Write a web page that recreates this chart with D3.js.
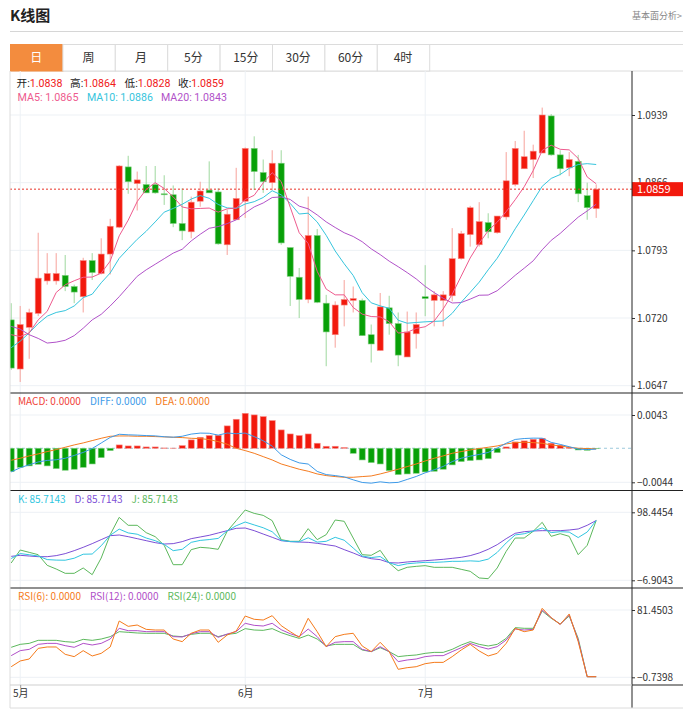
<!DOCTYPE html>
<html>
<head>
<meta charset="utf-8">
<script src="https://cdn.jsdelivr.net/npm/d3@7"></script>
<style>
  body { margin: 0; background: #fff; }
  svg { font-family: "Noto Sans CJK SC", "Noto Sans", sans-serif; }
  .leg { font-family: Roboto, "Noto Sans CJK SC", sans-serif; }
</style>
</head>
<body>
<svg id="chart" width="683" height="711"></svg>
<script>
// ---- data ----
var tabs = ["日", "周", "月", "5分", "15分", "30分", "60分", "4时"];
var monthLabels = ["5月", "6月", "7月"];
var monthIndex = [1, 26, 46];

var opens = [1.0718,1.0665,1.0710,1.0725,1.0760,1.0760,1.0766,1.0754,1.0743,1.0782,
  1.0768,1.0789,1.0818,1.0883,1.0865,1.0864,1.0864,1.0854,1.0853,1.0822,
  1.0813,1.0846,1.0858,1.0856,1.0799,1.0826,1.0846,1.0903,1.0877,1.0866,
  1.0887,1.0796,1.0764,1.0740,1.0809,1.0736,1.0702,1.0734,1.0739,1.0739,
  1.0702,1.0685,1.0731,1.0714,1.0678,1.0703,1.0743,1.0739,1.0739,1.0744,
  1.0784,1.0810,1.0799,1.0823,1.0812,1.0829,1.0864,1.0881,1.0891,1.0898,
  1.0938,1.0896,1.0882,1.0889,1.0852,1.0838];
var highs = [1.0736,1.0733,1.0730,1.0812,1.0790,1.0790,1.0788,1.0756,1.0785,1.0790,
  1.0806,1.0827,1.0885,1.0895,1.0878,1.0884,1.0884,1.0874,1.0863,1.0860,
  1.0851,1.0867,1.0889,1.0860,1.0837,1.0882,1.0904,1.0916,1.0891,1.0901,
  1.0901,1.0796,1.0774,1.0851,1.0816,1.0745,1.0738,1.0761,1.0754,1.0741,
  1.0713,1.0747,1.0744,1.0726,1.0727,1.0726,1.0777,1.0749,1.0749,1.0817,
  1.0814,1.0841,1.0845,1.0833,1.0830,1.0899,1.0911,1.0922,1.0907,1.0947,
  1.0940,1.0901,1.0899,1.0896,1.0866,1.0864];
var lows = [1.0664,1.0651,1.0676,1.0722,1.0756,1.0756,1.0749,1.0736,1.0726,1.0761,
  1.0767,1.0767,1.0817,1.0854,1.0836,1.0855,1.0854,1.0842,1.0818,1.0804,
  1.0806,1.0840,1.0855,1.0799,1.0788,1.0826,1.0828,1.0858,1.0855,1.0858,
  1.0799,1.0733,1.0720,1.0736,1.0736,1.0668,1.0688,1.0711,1.0726,1.0701,
  1.0672,1.0685,1.0702,1.0668,1.0678,1.0687,1.0722,1.0711,1.0711,1.0738,
  1.0783,1.0797,1.0797,1.0806,1.0811,1.0826,1.0862,1.0881,1.0871,1.0898,
  1.0895,1.0874,1.0873,1.0845,1.0826,1.0828];
var closes = [1.0666,1.0713,1.0726,1.0763,1.0768,1.0768,1.0754,1.0748,1.0782,1.0769,
  1.0789,1.0819,1.0884,1.0867,1.0869,1.0855,1.0855,1.0853,1.0822,1.0814,
  1.0845,1.0857,1.0855,1.0800,1.0832,1.0849,1.0903,1.0878,1.0867,1.0887,
  1.0801,1.0765,1.0740,1.0809,1.0737,1.0705,1.0734,1.0740,1.0741,1.0701,
  1.0692,1.0732,1.0714,1.0680,1.0705,1.0713,1.0741,1.0745,1.0745,1.0784,
  1.0811,1.0839,1.0824,1.0813,1.0830,1.0868,1.0903,1.0894,1.0900,1.0939,
  1.0896,1.0881,1.0891,1.0854,1.0839,1.0859];

// moving-average values at the left edge (history before the first candle)
var ma5Lead = [1.0702, 1.0700, 1.0704, 1.0718];
var ma10Lead = [1.0688, 1.0695, 1.0704, 1.0714, 1.0722, 1.0726, 1.0728, 1.0733, 1.0742];
var ma20Lead = [1.0711, 1.0708, 1.0702, 1.0698, 1.0693, 1.0694, 1.0696, 1.0701, 1.0709, 1.0718,
  1.0724, 1.0733, 1.0743, 1.0754, 1.0765, 1.0772, 1.0778, 1.0784, 1.0790];

var macdHist = [-0.00302,-0.00246,-0.00228,-0.00207,-0.00228,-0.00263,-0.00284,-0.00271,-0.00246,-0.00203,
  -0.00121,-0.00030,0.00043,0.00030,0.00030,0.00017,0.00017,0.00004,0.00002,0.00034,
  0.00108,0.00142,0.00164,0.00168,0.00289,0.00375,0.00452,0.00431,0.00409,0.00358,
  0.00237,0.00185,0.00164,0.00185,0.00065,0.00026,0.00026,0.00009,-0.00065,-0.00151,
  -0.00185,-0.00203,-0.00289,-0.00340,-0.00332,-0.00323,-0.00306,-0.00297,-0.00271,-0.00215,
  -0.00172,-0.00159,-0.00151,-0.00134,-0.00056,0.00017,0.00082,0.00095,0.00116,0.00129,
  0.00065,0.00039,0.00013,-0.00022,-0.00026,-0.00004];
var diffVals = [-0.00306,-0.00252,-0.00213,-0.00177,-0.00157,-0.00149,-0.00129,-0.00093,-0.00054,-0.00003,
  0.00068,0.00140,0.00181,0.00174,0.00170,0.00164,0.00160,0.00149,0.00143,0.00155,
  0.00183,0.00196,0.00194,0.00170,0.00197,0.00188,0.00196,0.00151,0.00097,0.00028,
  -0.00084,-0.00144,-0.00189,-0.00204,-0.00299,-0.00340,-0.00353,-0.00370,-0.00408,-0.00442,
  -0.00451,-0.00434,-0.00447,-0.00441,-0.00403,-0.00365,-0.00317,-0.00278,-0.00235,-0.00173,
  -0.00129,-0.00102,-0.00080,-0.00054,0.00002,0.00065,0.00114,0.00126,0.00131,0.00130,
  0.00076,0.00050,0.00020,-0.00011,-0.00017,-0.00011];
var deaVals = [-0.00155,-0.00129,-0.00099,-0.00073,-0.00043,-0.00017,0.00013,0.00043,0.00069,0.00099,
  0.00129,0.00155,0.00159,0.00159,0.00155,0.00155,0.00151,0.00147,0.00142,0.00138,
  0.00129,0.00125,0.00112,0.00086,0.00052,0.00000,-0.00030,-0.00065,-0.00108,-0.00151,
  -0.00203,-0.00237,-0.00271,-0.00297,-0.00332,-0.00353,-0.00366,-0.00375,-0.00375,-0.00366,
  -0.00358,-0.00332,-0.00302,-0.00271,-0.00237,-0.00203,-0.00164,-0.00129,-0.00099,-0.00065,
  -0.00043,-0.00022,-0.00004,0.00013,0.00030,0.00056,0.00073,0.00078,0.00073,0.00065,
  0.00043,0.00030,0.00013,0.00000,-0.00004,-0.00009];

var kVals = [26.8,34.5,32.7,30.7,25.2,24.4,24.2,27.3,33.5,33.8,
  46.6,62.8,72.4,66.5,64.5,58.6,54.5,48.7,39.0,41.1,
  51.9,54.9,56.2,58.0,69.6,77.6,83.4,78.9,74.5,68.3,
  55.0,53.1,52.8,59.0,52.3,53.5,59.7,55.2,43.1,30.7,
  28.3,29.9,20.3,15.9,18.7,19.9,20.9,20.8,21.5,22.5,
  22.5,23.2,22.5,25.9,36.3,51.0,63.4,65.2,69.3,74.3,
  67.0,68.4,67.8,59.3,67.9,85.7143];
var dVals = [30.2,31.8,30.7,29.7,29.7,31.3,34.4,39.0,44.2,49.9,
  56.1,62.2,63.3,60.7,57.6,54.5,51.4,49.3,49.9,53.0,
  57.6,60.2,62.8,66.4,70.0,73.6,74.1,70.0,64.8,59.7,
  54.5,53.0,52.4,51.9,50.4,48.3,46.2,40.6,35.4,29.7,
  26.6,25.1,20.4,19.9,21.5,22.5,23.5,24.5,25.6,27.1,
  28.7,31.3,35.4,41.1,48.3,57.6,65.9,68.4,69.5,70.0,
  70.0,70.0,71.0,72.6,78.3,85.7143];
var jVals = [19.9,40.0,36.4,32.8,16.3,10.6,3.9,3.9,12.2,1.8,
  27.6,63.8,90.6,78.3,78.3,66.9,60.7,47.3,17.3,17.3,
  40.6,44.2,43.1,41.1,69.0,85.5,102.0,96.8,93.7,85.5,
  56.1,53.5,53.5,73.1,56.1,63.8,86.5,84.5,58.6,32.8,
  31.8,39.5,19.9,8.0,13.2,14.7,15.8,13.2,13.2,13.2,
  10.1,7.0,-3.3,-4.4,12.2,38.0,58.6,58.6,69.0,82.9,
  61.2,65.3,61.2,32.8,47.3,85.7143];

var rsi6 = [12.2,19.2,21.6,34.6,36.3,36.3,27.3,24.5,31.8,25.3,
  28.5,36.3,68.0,61.5,63.1,57.8,57.0,57.0,46.0,42.8,
  53.0,57.0,57.0,42.0,50.9,55.8,74.1,70.1,69.2,74.5,
  62.3,55.0,48.1,71.3,55.0,36.7,48.9,51.7,53.0,37.5,
  30.6,42.0,30.6,9.0,11.0,12.2,15.9,17.5,17.5,24.5,
  32.6,39.5,31.4,25.3,28.5,40.7,59.1,55.0,57.0,83.5,
  72.1,63.9,76.6,42.8,0,0];
var rsi12 = [25.7,31.8,33.4,39.5,40.7,40.7,37.9,35.9,40.7,38.7,
  40.7,46.0,59.1,56.2,56.2,55.0,55.0,55.0,48.9,48.5,
  52.5,55.0,55.0,48.1,52.1,55.0,65.2,62.7,61.9,65.2,
  57.4,52.5,48.9,58.2,48.9,36.7,42.0,42.8,42.8,33.4,
  30.6,36.7,30.6,18.4,20.4,21.6,24.5,25.7,25.7,30.6,
  35.4,40.7,36.7,33.8,36.7,44.8,58.2,57.0,57.8,81.4,
  72.1,63.9,75.3,44.8,0,0];
var rsi24 = [35.9,39.5,40.7,44.4,44.4,44.4,42.8,42.0,45.6,44.4,
  46.0,48.9,55.0,54.2,53.4,53.0,53.0,53.0,49.7,48.9,
  51.7,53.0,53.0,48.9,51.7,53.0,58.7,57.0,56.6,58.7,
  53.8,50.1,46.8,50.9,46.0,37.5,39.5,39.5,39.5,32.6,
  30.6,35.4,30.6,24.5,25.7,26.5,28.5,29.7,29.7,33.4,
  38.7,42.8,39.5,37.5,39.5,46.8,59.9,59.1,59.1,80.2,
  71.3,64.4,74.1,46.8,0,0];

var priceTicks = [1.0939, 1.0866, 1.0793, 1.0720, 1.0647];
var macdTicks = [0.0043, -0.0044];
var kdjTicks = [98.4454, -6.9043];
var rsiTicks = [81.4503, -0.7398];

// ---- helpers ----
function movingAverage(vals, n, lead) {
  return vals.map(function(v, i) {
    if (i < lead.length) return lead[i];
    return d3.mean(vals.slice(i - n + 1, i + 1));
  });
}
var ma5 = movingAverage(closes, 5, ma5Lead),
    ma10 = movingAverage(closes, 10, ma10Lead),
    ma20 = movingAverage(closes, 20, ma20Lead);

var RED = "#f2190d", GREEN = "#08a008", GRID = "#edf1f5";
var L = 10, R = 632, W = 683;
var fmt4 = d3.format(".4f");

var svg = d3.select("#chart");

var x = d3.scaleLinear().domain([0, closes.length - 1]).range([11.2, 596.2]);

var panels = [
  {id: "p", top: 71, bottom: 393, y: d3.scaleLinear().domain([1.0647, 1.0939]).range([385.7, 115]), ticks: priceTicks},
  {id: "m", top: 393, bottom: 490.5, y: d3.scaleLinear().domain([-0.0044, 0.0043]).range([482.3, 415]), ticks: macdTicks},
  {id: "k", top: 490.5, bottom: 588, y: d3.scaleLinear().domain([-6.9043, 98.4454]).range([580.3, 512.3]), ticks: kdjTicks},
  {id: "r", top: 588, bottom: 685, y: d3.scaleLinear().domain([-0.7398, 81.4503]).range([677.3, 610]), ticks: rsiTicks}
];

var defs = svg.append("defs");
panels.forEach(function(p) {
  defs.append("clipPath").attr("id", "clip-" + p.id)
    .append("rect").attr("x", L).attr("y", p.top).attr("width", R - L).attr("height", p.bottom - p.top);
});

// shrink a text until it fits a width
function fitText(sel, maxW, size) {
  var w = sel.node().getComputedTextLength();
  if (w > maxW) sel.attr("font-size", size * maxW / w);
  return sel;
}

// ---- header ----
svg.append("text").attr("x", 10).attr("y", 21)
  .attr("font-size", 15).attr("font-weight", "bold").attr("fill", "#222").text("K线图");
svg.append("text").attr("x", 632).attr("y", 18.5)
  .attr("font-size", 9).attr("fill", "#888").text("基本面分析>");
svg.append("line").attr("x1", L).attr("x2", W).attr("y1", 31.5).attr("y2", 31.5)
  .attr("stroke", "#d6d6d6").attr("stroke-width", 1);

// tabs
var tabW = 52.4, tabTop = 44.5, tabBot = 71;
svg.append("rect").attr("x", L + 0.5).attr("y", tabTop).attr("width", W - L).attr("height", tabBot - tabTop)
  .attr("fill", "#fff").attr("stroke", "#dcdcdc");
var tab = svg.selectAll(".tab").data(tabs).enter().append("g").attr("class", "tab")
  .attr("transform", function(d, i) { return "translate(" + (L + i * tabW) + ",0)"; });
tab.append("rect").attr("x", 0.5).attr("y", tabTop).attr("width", tabW).attr("height", tabBot - tabTop)
  .attr("fill", function(d, i) { return i === 0 ? "#f38c3e" : "#fff"; })
  .attr("stroke", function(d, i) { return i === 0 ? "#f38c3e" : "#dcdcdc"; });
tab.append("text").attr("x", tabW / 2).attr("y", 62).attr("text-anchor", "middle")
  .attr("font-size", 12).attr("fill", function(d, i) { return i === 0 ? "#fff" : "#333"; })
  .text(function(d) { return d; });

// ---- grids ----
panels.forEach(function(p) {
  svg.append("g").selectAll("line").data(p.ticks).enter().append("line")
    .attr("x1", L).attr("x2", R)
    .attr("y1", function(d) { return p.y(d); }).attr("y2", function(d) { return p.y(d); })
    .attr("stroke", GRID);
});
svg.append("g").selectAll("line").data(monthIndex).enter().append("line")
  .attr("x1", function(d) { return x(d); }).attr("x2", function(d) { return x(d); })
  .attr("y1", 71).attr("y2", 685).attr("stroke", GRID);

// ---- price panel ----
var yP = panels[0].y;
var pg = svg.append("g").attr("clip-path", "url(#clip-p)");
var idx = d3.range(closes.length);

pg.selectAll(".wick").data(idx).enter().append("line")
  .attr("x1", function(i) { return x(i); }).attr("x2", function(i) { return x(i); })
  .attr("y1", function(i) { return yP(highs[i]); }).attr("y2", function(i) { return yP(lows[i]); })
  .attr("stroke", function(i) { return closes[i] >= opens[i] ? "#f7a29c" : "#9fd89f"; })
  .attr("stroke-width", 1);
pg.selectAll(".body").data(idx).enter().append("rect")
  .attr("x", function(i) { return x(i) - 3; })
  .attr("width", 6)
  .attr("y", function(i) { return yP(Math.max(opens[i], closes[i])); })
  .attr("height", function(i) { return Math.max(1, Math.abs(yP(opens[i]) - yP(closes[i]))); })
  .attr("fill", function(i) { return closes[i] >= opens[i] ? RED : GREEN; })
  .attr("stroke", function(i) { return closes[i] >= opens[i] ? "#f88a84" : "#7fcf7f"; })
  .attr("stroke-width", 0.6);

function drawLine(g, vals, y, color) {
  g.append("path").datum(vals)
    .attr("fill", "none").attr("stroke", color).attr("stroke-width", 1)
    .attr("d", d3.line().x(function(d, i) { return x(i); }).y(function(d) { return y(d); }));
}
drawLine(pg, ma20, yP, "#b152c9");
drawLine(pg, ma10, yP, "#36c5dd");
drawLine(pg, ma5, yP, "#ee5b8e");

var last = closes.length - 1;
svg.append("line").attr("x1", L).attr("x2", R)
  .attr("y1", yP(closes[last])).attr("y2", yP(closes[last]))
  .attr("stroke", "#e8342a").attr("stroke-dasharray", "2,2");

// price legend
var ohlc = [["开:", opens[last], 16.5], ["高:", highs[last], 70], ["低:", lows[last], 124.5], ["收:", closes[last], 178]];
ohlc.forEach(function(d) {
  var t = svg.append("text").attr("class", "leg").attr("x", d[2]).attr("y", 87).attr("font-size", 11);
  t.append("tspan").attr("fill", "#222").text(d[0]);
  t.append("tspan").attr("fill", "#f0201a").text(fmt4(d[1]));
  fitText(t, 46, 11);
});
var maLeg = [["MA5: ", ma5[last], "#ee5b8e", 17.5, 61], ["MA10: ", ma10[last], "#36c5dd", 87, 66], ["MA20: ", ma20[last], "#b152c9", 161, 66]];
maLeg.forEach(function(d) {
  var t = svg.append("text").attr("class", "leg").attr("x", d[3]).attr("y", 100.5).attr("font-size", 11)
    .attr("fill", d[2]).text(d[0] + fmt4(d[1]));
  fitText(t, d[4], 11);
});

// ---- MACD panel ----
var yM = panels[1].y;
var mg = svg.append("g").attr("clip-path", "url(#clip-m)");
mg.append("line").attr("x1", L).attr("x2", R).attr("y1", yM(0)).attr("y2", yM(0))
  .attr("stroke", "#9cc9dc").attr("stroke-dasharray", "3,3");
mg.selectAll(".bar").data(macdHist).enter().append("rect")
  .attr("x", function(d, i) { return x(i) - 3; }).attr("width", 6)
  .attr("y", function(d) { return yM(Math.max(0, d)); })
  .attr("height", function(d) { return Math.abs(yM(d) - yM(0)); })
  .attr("fill", function(d) { return d >= 0 ? RED : GREEN; })
  .attr("stroke", function(d) { return d >= 0 ? "#f88a84" : "#7fcf7f"; })
  .attr("stroke-width", 0.6);
drawLine(mg, deaVals, yM, "#f47b20");
drawLine(mg, diffVals, yM, "#3d9ae8");

// ---- KDJ panel ----
var yK = panels[2].y;
var kg = svg.append("g").attr("clip-path", "url(#clip-k)");
drawLine(kg, jVals, yK, "#5cb85c");
drawLine(kg, dVals, yK, "#7d4fd6");
drawLine(kg, kVals, yK, "#30c6e0");

// ---- RSI panel ----
var yR = panels[3].y;
var rg = svg.append("g").attr("clip-path", "url(#clip-r)");
drawLine(rg, rsi24, yR, "#5cb85c");
drawLine(rg, rsi12, yR, "#b04fc8");
drawLine(rg, rsi6, yR, "#f57a1a");

// panel legends
function panelLegend(y, items) {
  var t = svg.append("text").attr("x", 18).attr("y", y).attr("font-size", 10);
  items.forEach(function(d, i) {
    t.append("tspan").attr("fill", d[1]).attr("dx", i ? 9 : 0).text(d[0]);
  });
}
panelLegend(405.3, [["MACD: 0.0000", "#f0433a"], ["DIFF: 0.0000", "#3d9ae8"], ["DEA: 0.0000", "#f47b20"]]);
panelLegend(503.3, [["K: " + fmt4(kVals[last]), "#30c6e0"], ["D: " + fmt4(dVals[last]), "#7d4fd6"], ["J: " + fmt4(jVals[last]), "#5cb85c"]]);
panelLegend(600.3, [["RSI(6): 0.0000", "#f57a1a"], ["RSI(12): 0.0000", "#b04fc8"], ["RSI(24): 0.0000", "#5cb85c"]]);

// ---- right axes ----
panels.forEach(function(p) {
  var ax = svg.append("g").attr("transform", "translate(" + R + ",0)")
    .call(d3.axisRight(p.y).tickValues(p.ticks).tickSize(3).tickPadding(2).tickFormat(fmt4));
  ax.select(".domain").remove();
  ax.selectAll("text").attr("font-size", 10).attr("fill", "#333").attr("font-family", "'Noto Sans CJK SC', sans-serif");
  ax.selectAll("line").attr("stroke", "#333");
});

// current price tag
svg.append("rect").attr("x", R).attr("y", yP(closes[last]) - 7).attr("width", W - R).attr("height", 14)
  .attr("fill", "#f2190d");
svg.append("text").attr("x", R + 5).attr("y", yP(closes[last]) + 4).attr("font-size", 11)
  .attr("fill", "#fff").text(fmt4(closes[last]));

// ---- frame lines ----
[393, 490.5, 588].forEach(function(yy) {
  svg.append("line").attr("x1", L).attr("x2", W).attr("y1", yy).attr("y2", yy)
    .attr("stroke", "#222").attr("stroke-width", 1.2);
});
svg.append("line").attr("x1", L).attr("x2", L).attr("y1", 71).attr("y2", 708).attr("stroke", "#dcdcdc");
svg.append("line").attr("x1", R).attr("x2", R).attr("y1", 71).attr("y2", 708).attr("stroke", "#222");
svg.append("line").attr("x1", L).attr("x2", R).attr("y1", 685).attr("y2", 685).attr("stroke", "#cfcfcf");
svg.append("line").attr("x1", R).attr("x2", W).attr("y1", 685).attr("y2", 685).attr("stroke", "#222");
svg.append("line").attr("x1", L).attr("x2", W).attr("y1", 708).attr("y2", 708).attr("stroke", "#dcdcdc");

// ---- x axis ----
var xa = svg.append("g").attr("transform", "translate(0,685)")
  .call(d3.axisBottom(x).tickValues(monthIndex).tickSize(3).tickPadding(2)
    .tickFormat(function(d, i) { return monthLabels[i]; }));
xa.select(".domain").remove();
xa.selectAll("text").attr("font-size", 10).attr("fill", "#333").attr("font-family", "'Noto Sans CJK SC', sans-serif");
xa.selectAll("line").attr("stroke", "#999");
</script>
</body>
</html>
